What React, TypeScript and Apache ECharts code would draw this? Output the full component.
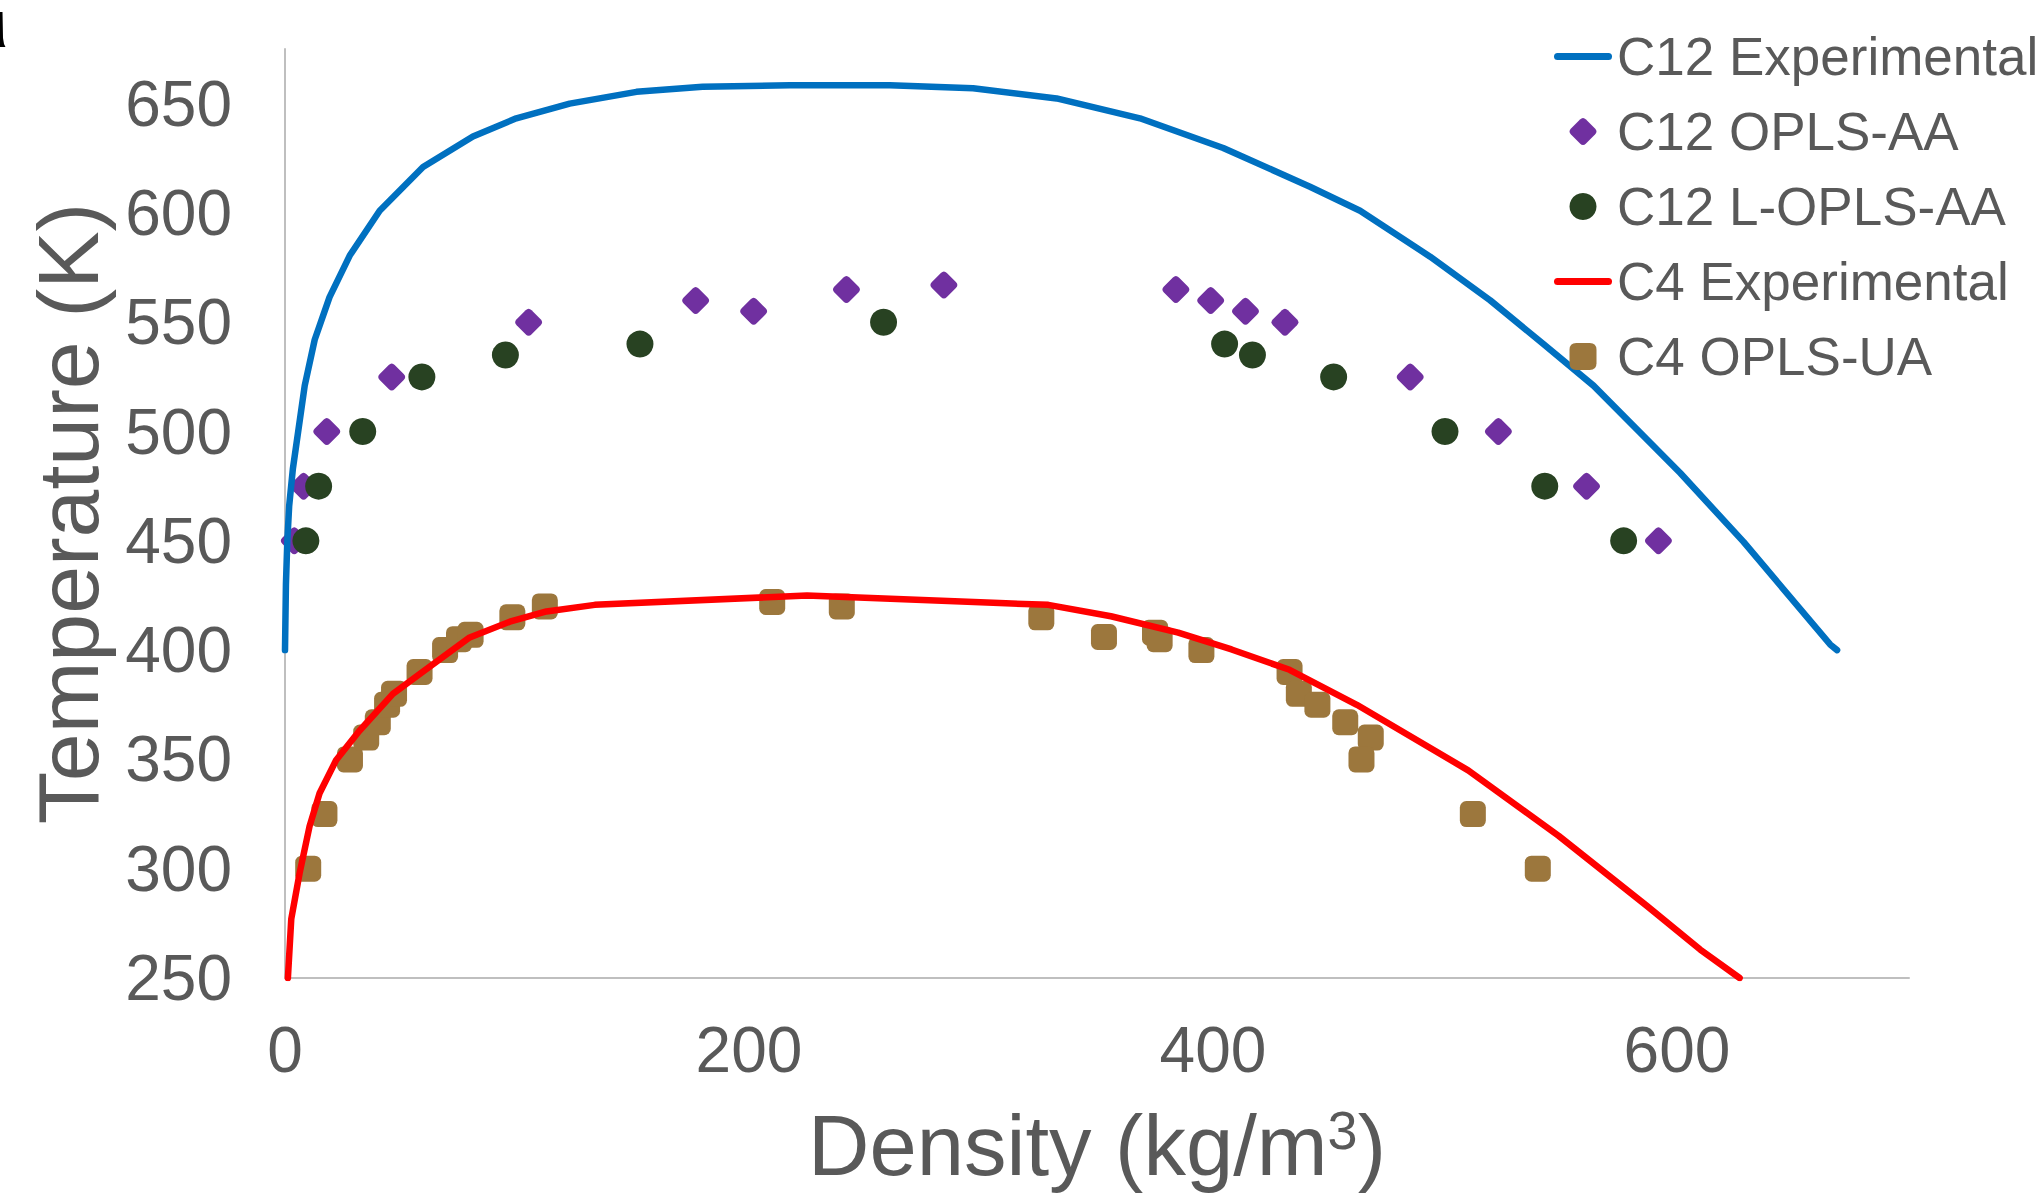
import React, { useEffect, useRef } from "react";
import * as echarts from "echarts";

const FONT = '"Liberation Sans", Arial, Helvetica, sans-serif';
const TEXT_COLOR = "#595959";
const AXIS_COLOR = "#BFBFBF";

const seriesNames = [
  "C12 Experimental",
  "C12 OPLS-AA",
  "C12 L-OPLS-AA",
  "C4 Experimental",
  "C4 OPLS-UA",
];

// x-axis (density, kg/m3) and y-axis (temperature, K) ranges
const xMin = 0;
const xMax = 700;
const xInterval = 200;
const yMin = 250;
const yMax = 675;
const yInterval = 50;

// C12 experimental coexistence curve [density, temperature]
const c12Experimental: [number, number][] = [
  [0, 400], [0.4, 430], [1.0, 450], [1.8, 466], [3.4, 483], [8.5, 521],
  [12.8, 542], [19.2, 561.5], [27.9, 580.5], [40.8, 601], [59.5, 621],
  [81, 635], [99.7, 643.3], [122.7, 650], [151.5, 655.4], [180, 657.7],
  [217.6, 658.4], [260.7, 658.4], [296.6, 657], [332.6, 652.4], [368.5, 643.3],
  [404.4, 629.7], [441.8, 612], [463.4, 601], [493.6, 580], [519.5, 560],
  [542.4, 540], [564, 521], [601.4, 481], [628.7, 449.5], [666, 402.6], [669, 400],
];

// C12 OPLS-AA simulation points
const c12OplsAA: [number, number][] = [
  [4, 450], [8, 475], [18, 500], [46, 525], [105, 550], [177, 560], [202, 555],
  [242, 565], [284, 567], [384, 565], [399, 560], [414, 555], [431, 550],
  [485, 525], [523, 500], [561, 475], [592, 450],
];

// C12 L-OPLS-AA simulation points
const c12LOplsAA: [number, number][] = [
  [9, 450], [14.5, 475], [33.5, 500], [59, 525], [95, 535], [153, 540],
  [258, 550], [405, 540], [417, 535], [452, 525], [500, 500], [543, 475],
  [577, 450],
];

// C4 experimental coexistence curve
const c4Experimental: [number, number][] = [
  [1.25, 250], [2.7, 277], [6.3, 298], [10.6, 319.5], [14.9, 334.5], [22, 349.6],
  [32, 363], [46.5, 380], [58, 389], [79.6, 405.8], [96.9, 413], [112.7, 417.7],
  [133.5, 420.7], [225, 425], [308, 421.5], [329, 420.7], [356, 415.5],
  [385, 408], [408, 400.3], [433, 391], [462, 375], [510, 345], [549, 315],
  [587, 283], [610, 263], [627, 250],
];

// C4 OPLS-UA simulation points
const c4OplsUA: [number, number][] = [
  [10, 300], [17, 325], [28, 350], [35, 360], [40, 367], [44, 375], [47, 380],
  [58, 390], [69, 400], [75, 405], [80, 407], [98, 415], [112, 420], [210, 422],
  [240, 420], [326, 415], [353, 406], [375, 408], [377, 405], [395, 400],
  [433, 390], [437, 380], [445, 375], [457, 367], [468, 360], [464, 350],
  [512, 325], [540, 300],
];

const COLORS = {
  blue: "#0070C0",
  purple: "#7030A0",
  green: "#284222",
  red: "#FF0000",
  brown: "#9C773D",
};

const DIAMOND =
  "path://M40,10 Q50,0 60,10 L90,40 Q100,50 90,60 L60,90 Q50,100 40,90 L10,60 Q0,50 10,40 Z";
const ROUND_SQUARE =
  "path://M6.5,0 H19.5 Q26,0 26,6.5 V19.5 Q26,26 19.5,26 H6.5 Q0,26 0,19.5 V6.5 Q0,0 6.5,0 Z";
const LINE_ICON =
  "path://M3.5,0 H54.5 A3.5,3.5 0 0 1 54.5,7 H3.5 A3.5,3.5 0 0 1 3.5,0 Z";

export default function App() {
  const ref = useRef<HTMLDivElement>(null);

  useEffect(() => {
    if (!ref.current) return;
    const chart = echarts.init(ref.current, undefined, { renderer: "svg" });
    const option: any = {
      animation: false,
      backgroundColor: "#FFFFFF",
      textStyle: { fontFamily: FONT },
      grid: { left: 285, right: 134, top: 49, bottom: 207, containLabel: false },
      xAxis: {
        type: "value",
        min: xMin,
        max: xMax,
        interval: xInterval,
        name: "{a|Density (kg/m}{b|3}{a|)}",
        nameLocation: "middle",
        nameGap: 125,
        nameTextStyle: {
          fontSize: 85,
          color: TEXT_COLOR,
          fontFamily: FONT,
          rich: {
            a: { fontSize: 85, lineHeight: 85, color: TEXT_COLOR, fontFamily: FONT },
            b: {
              fontSize: 54,
              lineHeight: 54,
              color: TEXT_COLOR,
              fontFamily: FONT,
              verticalAlign: "top",
            },
          },
        },
        axisLine: { show: true, lineStyle: { color: AXIS_COLOR, width: 2 } },
        axisTick: { show: false },
        splitLine: { show: false },
        axisLabel: {
          fontSize: 64,
          color: TEXT_COLOR,
          fontFamily: FONT,
          margin: 40,
          showMaxLabel: false,
        },
      },
      yAxis: {
        type: "value",
        min: yMin,
        max: yMax,
        interval: yInterval,
        name: "Temperature (K)",
        nameLocation: "middle",
        nameGap: 174,
        nameTextStyle: { fontSize: 86, color: TEXT_COLOR, fontFamily: FONT },
        axisLine: { show: true, lineStyle: { color: AXIS_COLOR, width: 2 } },
        axisTick: { show: false },
        splitLine: { show: false },
        axisLabel: {
          fontSize: 64,
          color: TEXT_COLOR,
          fontFamily: FONT,
          margin: 53,
          showMaxLabel: false,
        },
      },
      legend: {
        orient: "vertical",
        left: 1554,
        top: 30,
        padding: 0,
        itemWidth: 58,
        itemHeight: 27,
        itemGap: 22,
        selectedMode: false,
        textStyle: {
          fontSize: 53,
          lineHeight: 53,
          color: TEXT_COLOR,
          fontFamily: FONT,
        },
        data: [
          { name: seriesNames[0], icon: LINE_ICON, itemStyle: { color: COLORS.blue } },
          { name: seriesNames[1], icon: DIAMOND },
          { name: seriesNames[2], icon: "circle" },
          { name: seriesNames[3], icon: LINE_ICON, itemStyle: { color: COLORS.red } },
          { name: seriesNames[4], icon: ROUND_SQUARE },
        ],
      },
      graphic: [
        {
          type: "polygon",
          silent: true,
          shape: {
            points: [
              [0, 12],
              [2.5, 12],
              [3, 38],
              [4, 44],
              [5.5, 47],
              [0, 47],
            ],
          },
          style: { fill: "#000000" },
        },
      ],
      series: [
        {
          name: seriesNames[0],
          type: "line",
          data: c12Experimental,
          symbol: "none",
          lineStyle: { color: COLORS.blue, width: 6.5, cap: "round", join: "round" },
          itemStyle: { color: COLORS.blue },
          smooth: false,
        },
        {
          name: seriesNames[1],
          type: "scatter",
          data: c12OplsAA,
          symbol: DIAMOND,
          symbolSize: 27,
          itemStyle: { color: COLORS.purple, opacity: 1 },
        },
        {
          name: seriesNames[2],
          type: "scatter",
          data: c12LOplsAA,
          symbol: "circle",
          symbolSize: 27,
          itemStyle: { color: COLORS.green, opacity: 1 },
        },
        {
          name: seriesNames[3],
          type: "line",
          data: c4Experimental,
          symbol: "none",
          lineStyle: { color: COLORS.red, width: 6.5, cap: "round", join: "round" },
          itemStyle: { color: COLORS.red },
          smooth: false,
        },
        {
          name: seriesNames[4],
          type: "scatter",
          data: c4OplsUA,
          symbol: "roundRect",
          symbolSize: 26,
          itemStyle: { color: COLORS.brown, opacity: 1 },
        },
      ],
    };
    chart.setOption(option);
    return () => {
      chart.dispose();
    };
  }, []);

  return (
    <div
      ref={ref}
      style={{ position: "absolute", left: 0, top: 0, width: 2043, height: 1193 }}
    />
  );
}
